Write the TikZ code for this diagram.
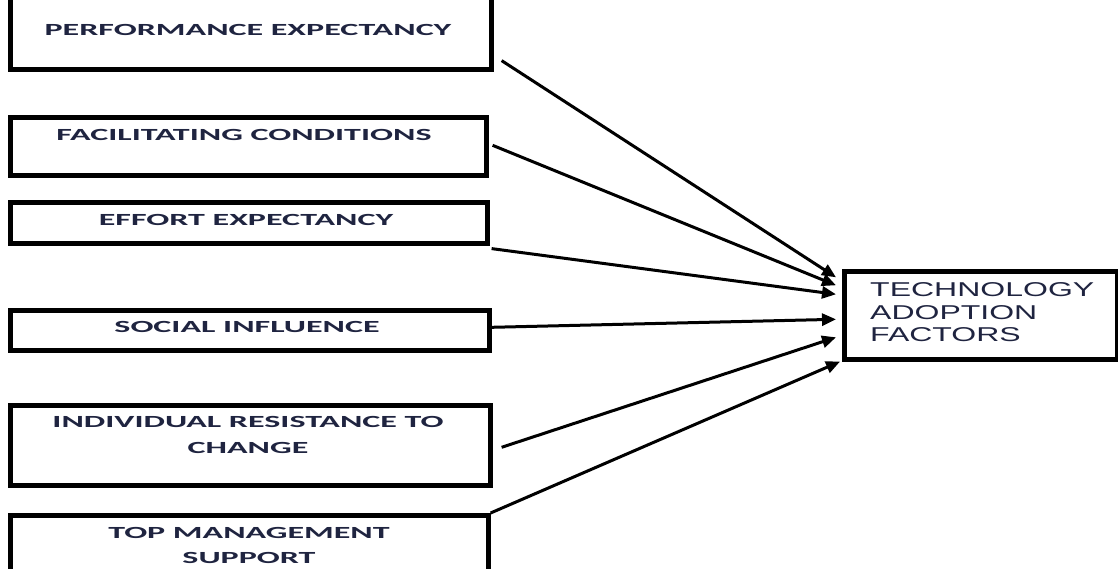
\documentclass[tikz,border=0pt]{standalone}
\usepackage{fontspec}
\newfontfamily\boxfont{Carlito}[FakeStretch=2.0]
\newfontfamily\tgtfont{Liberation Sans}[FakeStretch=1.6]
\usetikzlibrary{arrows.meta,calc}
\definecolor{txt}{HTML}{1F2440}
\begin{document}
\begin{tikzpicture}[x=1pt,y=-1pt,
  box/.style={draw=black, line width=4.6pt, fill=white, inner sep=0pt, anchor=north west},
  lbl/.style={font=\boxfont\bfseries\fontsize{17}{25.5}\selectfont, text=txt, align=center, inner sep=0pt},
  tlbl/.style={font=\tgtfont\fontsize{20}{22.5}\selectfont, text=txt, align=left, inner sep=0pt, anchor=west},
  arr/.style={line width=3pt, -{Triangle[length=14pt,width=12pt]}}]
\useasboundingbox (0,0) rectangle (1118,568);
\clip (0,0) rectangle (1118,568);
\fill[white] (0,0) rectangle (1118,568);
% boxes
\node[box, minimum width=481pt, minimum height=77pt] (pe) at (8,-10) {};
\node[box, minimum width=476pt, minimum height=58pt] (fc) at (8,115) {};
\node[box, minimum width=477pt, minimum height=41pt] (ee) at (8,200) {};
\node[box, minimum width=479pt, minimum height=40pt] (si) at (8,308) {};
\node[box, minimum width=480pt, minimum height=80pt] (ir) at (8,403) {};
\node[box, minimum width=478pt, minimum height=70pt] (tm) at (8,513) {};
\node[box, minimum width=273pt, minimum height=88pt] (tgt) at (842,269) {};
% labels
\node[lbl] (pel) at (248,30) {PERFORMANCE EXPECTANCY};
\node[lbl] (fcl) at (244,135) {FACILITATING CONDITIONS};
\node[lbl] (eel) at (246,220) {EFFORT EXPECTANCY};
\node[lbl] (sil) at (247,327) {SOCIAL INFLUENCE};
\node[lbl] (irl) at (248,435) {INDIVIDUAL RESISTANCE TO\\CHANGE};
\node[lbl] (tml) at (249,545.5) {TOP MANAGEMENT\\SUPPORT};
\node[tlbl] (tgtl) at (870,312.5) {TECHNOLOGY\\ADOPTION\\FACTORS};
% arrows
\draw[arr] ($(pe.south east)+(8,-11)$) -- ($(tgt.west)+(-6,-38)$);
\draw[arr] ($(fc.east)+(4,-1)$) -- ($(tgt.west)+(-6,-30)$);
\draw[arr] ($(ee.south east)+(2,3)$) -- ($(tgt.west)+(-6,-21)$);
\draw[arr] ($(si.east)+(0,-3)$) -- ($(tgt.west)+(-6,4)$);
\draw[arr] ($(ir.east)+(9,2)$) -- ($(tgt.west)+(-6,22)$);
\draw[arr] (tm.north east) -- ($(tgt.south west)+(-2,0)$);
\end{tikzpicture}
\end{document}
